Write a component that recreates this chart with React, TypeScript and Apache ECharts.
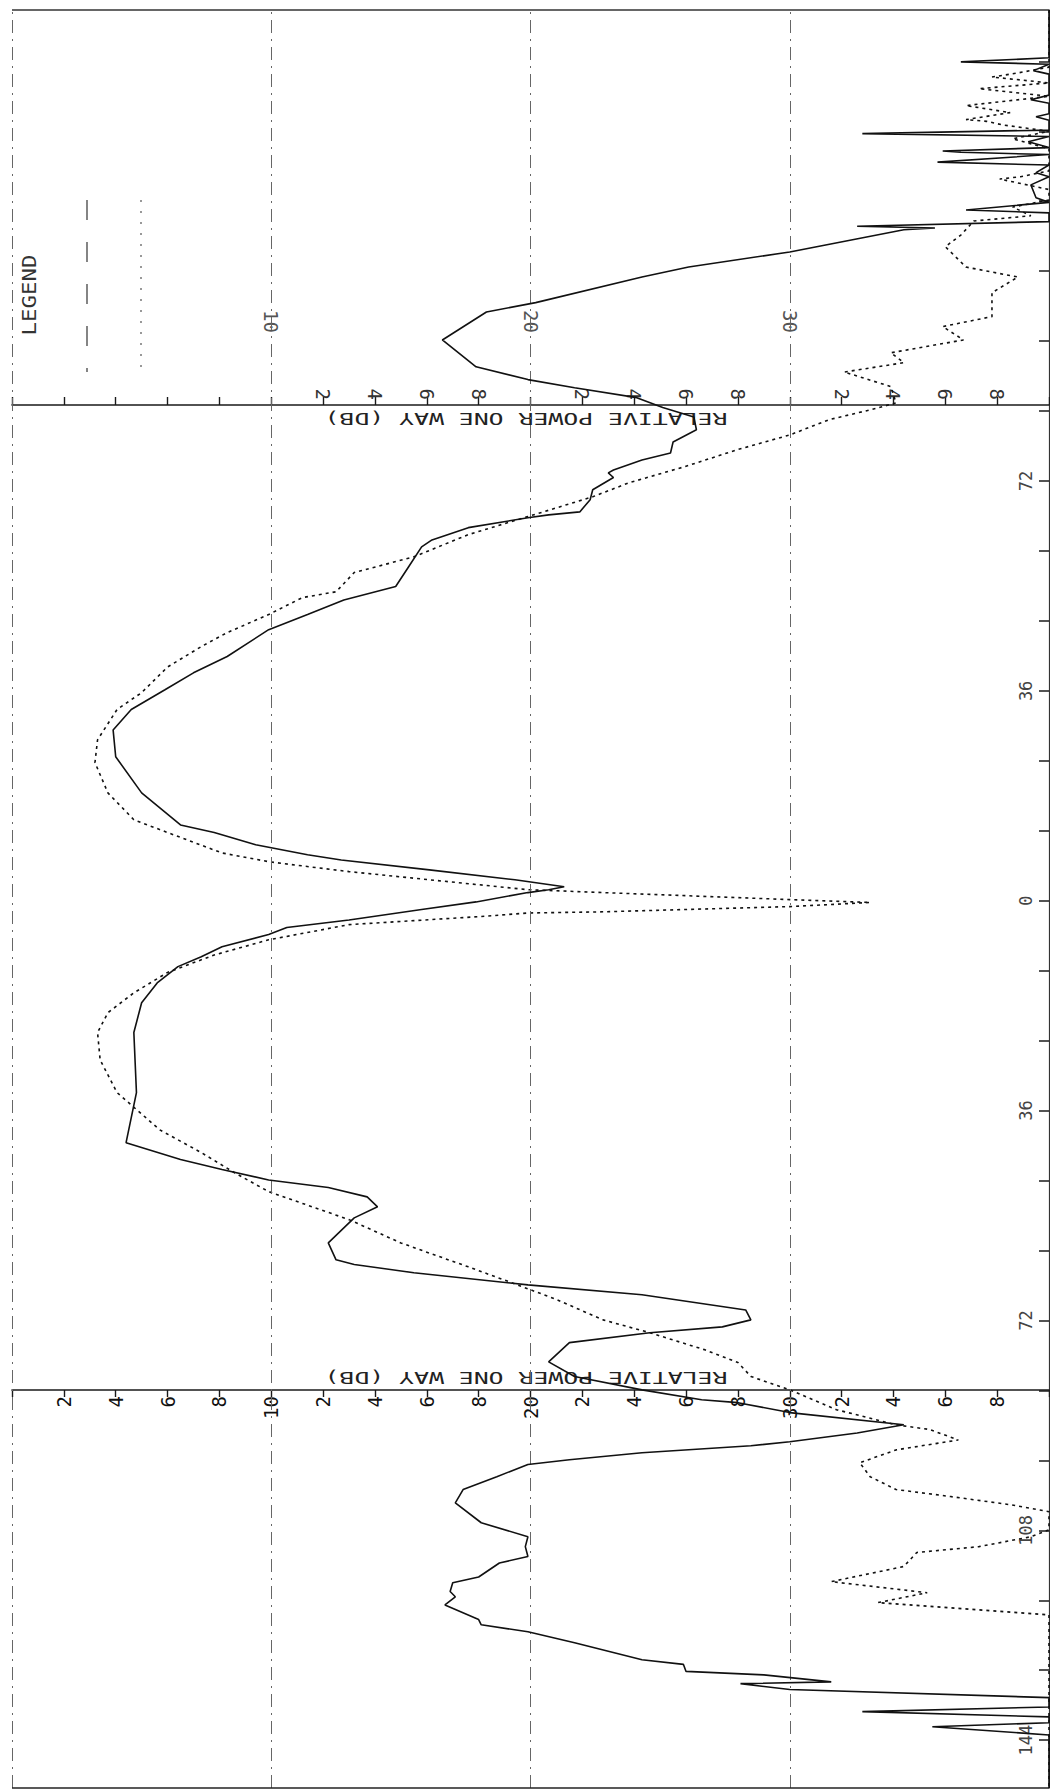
import React, { useEffect, useRef } from "react";
import * as echarts from "echarts";

// Angle (deg) and relative level (dB down) of the solid trace, top to bottom
const solidAngles = [
  152.8, 146.0, 144.6, 143.9, 143.5, 142.4, 141.8, 138.2, 137.4, 136.8, 135.0, 134.5, 133.9,
  132.2, 131.6, 131.1, 130.2, 129.2, 128.6, 128.4, 128.0, 126.7, 126.2, 124.9, 124.2, 122.8,
  120.6, 119.8, 118.5, 118.0, 116.5, 115.7, 115.4, 115.1, 111.3, 108.7, 107.0, 102.6, 101.0,
  96.2, 91.6, 89.4, 88.0, 86.3, 84.6, 83.0, 80.8, 78.7, 76.8, 75.6, 73.9, 73.4, 72.6, 70.5,
  68.8, 66.7, 66.2, 65.7, 64.0, 61.9, 60.7, 57.3, 53.9, 51.6, 49.1, 46.5, 41.9, 39.1, 36.2,
  32.8, 29.3, 24.7, 18.5, 13.0, 11.7, 9.6, 7.9, 7.0, 5.3, 3.6, 2.4, 1.9, 1.4, -0.2, -1.5,
  -3.3, -4.6, -5.8, -7.9, -9.6, -11.3, -14.1, -17.5, -22.6, -32.9, -41.5, -44.4, -46.1,
  -47.9, -49.2, -50.8, -52.5, -54.4, -58.7, -61.6, -62.4, -63.8, -65.9, -67.6, -70.2, -71.9,
  -73.1, -74.1, -75.8, -79.1, -81.6, -83.9, -85.6, -86.1, -87.8, -89.9, -91.3, -92.8, -93.5,
  -94.7, -95.9, -96.7, -98.8, -101.0, -103.3, -106.7, -109.1, -110.8, -112.5, -113.6, -116.0,
  -117.0, -118.5, -119.4, -120.8, -123.3, -124.2, -125.4, -127.3, -130.2, -131.0, -132.2,
  -132.8, -134.0, -134.3, -135.3, -136.7, -138.3, -139.1, -140.0, -141.0, -141.7, -143.1, -152.2,
];
const solidLevels = [
  40, 40, 40, 36.6, 40, 39.4, 40, 40, 39.3, 40, 40, 39.5, 40,
  40, 32.8, 40, 39.2, 40, 35.9, 36.6, 40, 35.7, 40, 39.5, 40, 39.3,
  39.5, 40, 36.8, 40, 40, 32.6, 35.6, 34.4, 30.0, 26.1, 24.3, 20.2, 18.3,
  16.6, 17.9, 19.9, 21.7, 24.1, 25.1, 26.3, 26.4, 25.5, 25.4, 24.3, 23.2, 23.0, 23.2, 22.4,
  22.3, 21.9, 20.7, 19.9, 17.6, 16.2, 15.8, 15.3, 14.8, 12.8, 11.4, 9.9, 8.3, 7.0, 5.9,
  4.6, 3.9, 4.0, 5.0, 6.5, 7.8, 9.4, 11.4, 12.7, 16.1, 19.4, 21.3, 20.7, 19.9, 17.9, 15.8,
  13.0, 10.6, 9.9, 8.1, 7.3, 6.4, 5.6, 5.0, 4.7, 4.8, 4.4, 6.5, 8.1,
  9.9, 12.2, 13.7, 14.1, 13.2, 12.2, 12.5, 13.2, 15.5, 19.9, 24.3, 28.3, 28.5,
  27.4, 24.6, 21.5, 20.7, 21.7, 24.3, 26.6, 28.0, 30.0, 34.4, 32.6, 30.0, 28.5,
  24.3, 21.5, 19.9, 18.7, 17.4, 17.1, 18.1, 19.9, 19.8, 19.9, 18.8, 18.0,
  17.0, 16.9, 17.1, 16.7, 18.0, 18.1, 19.9, 21.7, 24.3, 25.9, 26.0,
  29.0, 31.6, 28.1, 30.0, 40, 40, 32.8, 40, 40, 35.5, 40, 40,
];

// Angle (deg) and relative level (dB down) of the dashed trace, top to bottom
const dashedAngles = [
  152.8, 143.0, 142.0, 141.3, 140.3, 139.3, 138.0, 136.4, 135.2, 134.0, 133.7, 133.1, 132.0,
  130.7, 129.0, 125.2, 124.2, 123.8, 122.0, 120.2, 119.0, 117.5, 116.6, 114.2, 112.2, 108.7,
  107.0, 104.3, 100.2, 98.5, 96.2, 94.0, 92.3, 90.7, 88.2, 85.4, 84.2, 82.5, 79.9, 77.4,
  74.4, 71.7, 69.3, 65.9, 62.8, 59.0, 56.3, 53.0, 52.0, 49.1, 46.0, 43.6, 40.1, 35.7, 32.8,
  27.6, 23.7, 18.5, 13.9, 11.7, 8.2, 6.7, 5.7, 5.0, 3.6, 1.9, 1.4, 0.2, -0.3, -1.0, -1.9,
  -2.1, -2.7, -4.1, -6.7, -9.3, -12.3, -15.8, -19.2, -22.6, -27.3, -32.9, -39.3, -43.2,
  -46.7, -49.9, -54.7, -58.7, -62.8, -65.4, -68.4, -71.9, -74.1, -77.0, -79.2, -81.6, -83.9,
  -87.3, -89.9, -90.7, -92.5, -94.2, -96.4, -98.8, -101.0, -102.2, -103.6, -104.8, -107.9,
  -109.1, -110.8, -111.8, -114.2, -116.8, -118.7, -120.4, -122.5, -152.2,
];
const dashedLevels = [
  40, 40, 38.8, 37.8, 40, 37.3, 40, 36.8, 38.5, 36.8, 37.6, 38.2, 40,
  38.6, 40, 40, 38.9, 38.1, 40, 40, 38.6, 39.3, 37.1, 36.6, 36.0, 36.8,
  38.8, 37.8, 37.8, 35.9, 36.7, 33.9, 34.4, 32.1, 33.9, 34.1, 33.1, 31.5, 30.0, 28.0,
  25.9, 23.8, 22.4, 19.9, 17.6, 15.5, 13.2, 12.5, 11.2, 9.9, 8.3, 7.3, 6.0, 5.0, 4.05,
  3.3, 3.2, 3.7, 4.7, 6.0, 8.1, 9.9, 11.7, 13.0, 16.1, 19.9, 22.8, 30.0, 33.1, 30.0, 22.8,
  19.9, 18.1, 13.0, 9.9, 7.8, 6.0, 4.7, 3.7, 3.3, 3.4, 4.05, 5.7, 7.3,
  8.6, 9.9, 13.0, 15.0, 17.6, 19.2, 21.0, 22.8, 24.6, 26.7, 28.0, 28.5, 30.0,
  31.8, 34.1, 35.4, 36.5, 34.1, 32.7, 33.1, 34.1, 36.2, 38.5, 40, 40,
  39.3, 37.3, 34.9, 34.4, 31.6, 35.3, 33.4, 40, 40,
];

// Axes
const ANGLE_MIN = -152.2;
const ANGLE_MAX = 152.8;
const DB_MIN = 0;
const DB_MAX = 40;
const angleTickValues = [-144, -132, -120, -108, -96, -84, -72, -60, -48, -36, -24, -12, 0, 12, 24, 36, 48, 60, 72, 84, 96, 108, 120, 132, 144];
const angleLabelValues = [-144, -108, -72, -36, 0, 36, 72];
const lowerDbLabels = [2, 4, 6, 8, 10, 12, 14, 16, 18, 20, 22, 24, 26, 28, 30, 32, 34, 36, 38];
const upperDbLabels = [12, 14, 16, 18, 22, 24, 26, 28, 32, 34, 36, 38];
const decadeLabels = [10, 20, 30];
const gridLevels = [0, 10, 20, 30];
const AXIS_TITLE = "RELATIVE POWER ONE WAY (DB)";
const LEGEND_TITLE = "LEGEND";

const FONT = "DejaVu Sans Mono";
const INK = "#1a1a1a";

const zip = (levels: number[], angles: number[]) => levels.map((v, i) => [v, angles[i]]);

export default function App() {
  const ref = useRef<HTMLDivElement>(null);

  useEffect(() => {
    if (!ref.current) return;
    const chart = echarts.init(ref.current, undefined, { renderer: "svg" });

    const dbLabelStyle = {
      rotate: 90,
      fontSize: 19,
      fontFamily: FONT,
      color: "#111",
    };

    const option: any = {
      animation: false,
      backgroundColor: "#ffffff",
      grid: { left: 12, right: 1, top: 10, bottom: 3, containLabel: false },
      xAxis: [
        {
          type: "value",
          min: DB_MIN,
          max: DB_MAX,
          interval: 2,
          position: "bottom",
          offset: -398,
          axisLine: { show: true, onZero: false, lineStyle: { color: INK, width: 1.6 } },
          axisTick: { show: true, length: 7, lineStyle: { color: INK, width: 1.4 } },
          axisLabel: {
            ...dbLabelStyle,
            margin: 6,
            customValues: lowerDbLabels,
            formatter: (v: number) => (v % 10 === 0 ? String(v) : String(v % 10)),
          },
          splitLine: { show: false },
        },
        {
          type: "value",
          min: DB_MIN,
          max: DB_MAX,
          interval: 2,
          position: "top",
          offset: -395,
          axisLine: { show: true, onZero: false, lineStyle: { color: INK, width: 1.6 } },
          axisTick: { show: true, length: 8, lineStyle: { color: INK, width: 1.4 } },
          axisLabel: {
            ...dbLabelStyle,
            color: "#333",
            margin: 5,
            customValues: upperDbLabels,
            formatter: (v: number) => String(v % 10),
          },
          splitLine: { show: false },
        },
        {
          type: "value",
          min: DB_MIN,
          max: DB_MAX,
          interval: 10,
          position: "top",
          offset: -325,
          axisLine: { show: false, onZero: false },
          axisTick: { show: false },
          axisLabel: {
            ...dbLabelStyle,
            color: "#555",
            margin: 2,
            customValues: decadeLabels,
            formatter: (v: number) => String(v),
          },
          splitLine: { show: false },
        },
      ],
      yAxis: {
        type: "value",
        min: ANGLE_MIN,
        max: ANGLE_MAX,
        position: "right",
        axisLine: { show: true, onZero: false, lineStyle: { color: "#333", width: 1.2 } },
        axisTick: {
          show: true,
          inside: true,
          length: 10,
          customValues: angleTickValues,
          lineStyle: { color: INK, width: 1.5 },
        },
        axisLabel: {
          show: true,
          inside: true,
          rotate: 90,
          margin: 15,
          customValues: angleLabelValues,
          formatter: (v: number) => String(Math.abs(v)),
          fontSize: 17,
          fontFamily: FONT,
          color: "#444",
        },
        splitLine: { show: false },
      },
      series: [
        {
          type: "line",
          name: "solid",
          xAxisIndex: 0,
          yAxisIndex: 0,
          data: zip(solidLevels, solidAngles),
          showSymbol: false,
          symbol: "none",
          lineStyle: { color: "#111", width: 1.6 },
          z: 5,
          markLine: {
            silent: true,
            symbol: ["none", "none"],
            label: { show: false },
            lineStyle: { color: "#666", width: 1, type: [13, 6, 2, 6] },
            data: [
              ...gridLevels.map((v) => ({ xAxis: v })),
              { yAxis: ANGLE_MAX, lineStyle: { color: "#333", width: 1.5, type: "solid" } },
              { yAxis: ANGLE_MIN, lineStyle: { color: "#222", width: 1.6, type: "solid" } },
            ],
          },
        },
        {
          type: "line",
          name: "dashed",
          xAxisIndex: 0,
          yAxisIndex: 0,
          data: zip(dashedLevels, dashedAngles),
          showSymbol: false,
          symbol: "none",
          lineStyle: { color: "#111", width: 1.6, type: [3, 4] },
          z: 4,
        },
      ],
      graphic: [
        {
          type: "text",
          x: 30,
          y: 295,
          rotation: Math.PI / 2,
          scaleX: 1.18,
          style: {
            text: LEGEND_TITLE,
            font: `19px "${FONT}"`,
            fill: "#333",
            align: "center",
            verticalAlign: "middle",
            textAlign: "center",
            textVerticalAlign: "middle",
          },
        },
        {
          type: "line",
          shape: { x1: 87, y1: 200, x2: 87, y2: 372 },
          style: { stroke: "#444", lineWidth: 1.3, lineDash: [20, 22] },
        },
        {
          type: "line",
          shape: { x1: 141, y1: 200, x2: 141, y2: 372 },
          style: { stroke: "#555", lineWidth: 1.2, lineDash: [2, 9] },
        },
        {
          type: "text",
          x: 526,
          y: 418,
          rotation: Math.PI,
          scaleX: 1.55,
          style: {
            text: AXIS_TITLE,
            font: `16px "${FONT}"`,
            fill: "#222",
            align: "center",
            verticalAlign: "middle",
            textAlign: "center",
            textVerticalAlign: "middle",
          },
        },
        {
          type: "text",
          x: 526,
          y: 1377,
          rotation: Math.PI,
          scaleX: 1.55,
          style: {
            text: AXIS_TITLE,
            font: `16px "${FONT}"`,
            fill: "#222",
            align: "center",
            verticalAlign: "middle",
            textAlign: "center",
            textVerticalAlign: "middle",
          },
        },
      ],
    };

    chart.setOption(option);
    return () => {
      chart.dispose();
    };
  }, []);

  return (
    <div
      ref={ref}
      style={{ position: "fixed", left: 0, top: 0, width: 1050, height: 1791, background: "#fff" }}
    />
  );
}
